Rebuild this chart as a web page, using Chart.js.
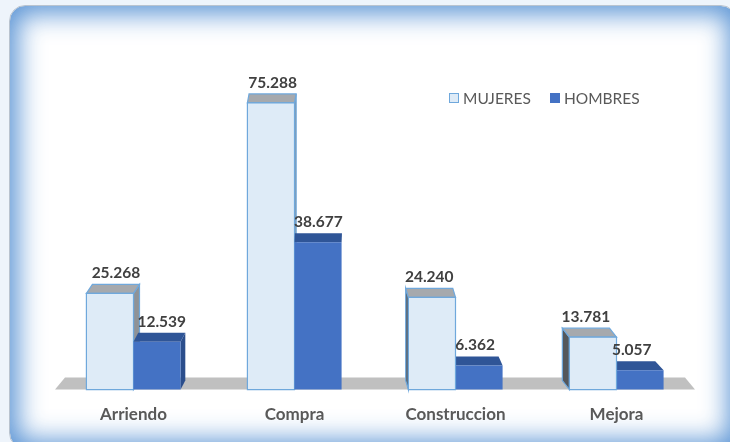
<!DOCTYPE html>
<html>
<head>
<meta charset="utf-8">
<script src="https://cdn.jsdelivr.net/npm/chart.js@4.4.1/dist/chart.umd.min.js"></script>
<style>
  html, body { margin: 0; padding: 0; background: #eef4fb; overflow: hidden; }
  #wrap { position: relative; width: 730px; height: 442px; overflow: hidden; }
  #frame {
    position: absolute; left: 9px; top: 5px; width: 726px; height: 442px;
    background: #fff; border-radius: 16px;
    border: 1px solid #b9c3cf;
    box-shadow: inset 0 0 26px 8px rgba(74, 138, 208, 0.9);
  }
  #chart { position: absolute; left: 0; top: 0; }
  #legend {
    position: absolute; left: 449px; top: 89px;
    font-family: Lato, "Open Sans", sans-serif; font-size: 15.5px; color: #595959;
    display: flex; align-items: center; white-space: nowrap;
  }
  .sw { display: inline-block; width: 10px; height: 10px; margin-right: 4px; box-sizing: border-box; }
  .item { display: flex; align-items: center; margin-right: 19px; }
</style>
</head>
<body>
<div id="wrap">
  <div id="frame"></div>
  <canvas id="chart" width="730" height="442"></canvas>
  <div id="legend"></div>
</div>
<script>
// --- data ---
const categories = ['Arriendo', 'Compra', 'Construccion', 'Mejora'];
const seriesNames = ['MUJERES', 'HOMBRES'];
const mujeres = [25268, 75288, 24240, 13781];
const hombres = [12539, 38677, 6362, 5057];

// colores: frente, borde, tapa, lado derecho, lado izquierdo
const palette = [
  { front: '#deebf7', border: '#6fa8dc', top: '#a6a9ad', sideR: '#8f9296', sideL: '#54575b' },
  { front: '#4472c4', border: '#4472c4', top: '#2f5597', sideR: '#2b4e8c', sideL: '#23427a' }
];

const DEPTH = 9;      // profundidad vertical de la tapa
const PERSP = 0.027;  // factor de perspectiva horizontal

function fmt(v) {
  return String(v).replace(/\B(?=(\d{3})+(?!\d))/g, '.');
}

// leyenda HTML
const legendEl = document.getElementById('legend');
seriesNames.forEach((name, i) => {
  const item = document.createElement('span');
  item.className = 'item';
  const sw = document.createElement('span');
  sw.className = 'sw';
  sw.style.background = palette[i].front;
  sw.style.border = i === 0 ? '1.5px solid ' + palette[0].border : 'none';
  item.appendChild(sw);
  item.appendChild(document.createTextNode(name));
  legendEl.appendChild(item);
});

function poly(ctx, pts, fill, stroke) {
  ctx.beginPath();
  ctx.moveTo(pts[0][0], pts[0][1]);
  for (let i = 1; i < pts.length; i++) ctx.lineTo(pts[i][0], pts[i][1]);
  ctx.closePath();
  ctx.fillStyle = fill;
  ctx.fill();
  if (stroke) {
    ctx.strokeStyle = stroke;
    ctx.lineWidth = 1.2;
    ctx.stroke();
  }
}

function vanishX(area) {
  return area.left + 0.433 * (area.right - area.left);
}

// dibuja las barras en 3D a partir de los elementos del chart
const bars3d = {
  id: 'bars3d',
  beforeDatasetsDraw(chart) {
    const ctx = chart.ctx;
    const area = chart.chartArea;
    const vx = vanishX(area);
    ctx.save();

    // piso
    poly(ctx, [
      [area.left + 2, area.bottom],
      [area.right - 2, area.bottom],
      [area.right - 12, area.bottom - 12],
      [area.left + 12, area.bottom - 12]
    ], '#c0c0c0');

    const metas = [chart.getDatasetMeta(0), chart.getDatasetMeta(1)];
    categories.forEach((c, i) => {
      const catX = (metas[0].data[i].x + metas[1].data[i].x) / 2;
      const order = (vx - catX) >= 0 ? [0, 1] : [1, 0];
      order.forEach(d => {
        const el = metas[d].data[i];
        const p = palette[d];
        const w = el.width;
        const x0 = el.x - w / 2, x1 = el.x + w / 2;
        const top = el.y, bot = el.base;
        const dx = PERSP * (vx - el.x);
        const dy = -DEPTH;
        const stroke = d === 0 ? p.border : null;
        // lado
        if (dx > 0.5) {
          poly(ctx, [[x1, top], [x1 + dx, top + dy], [x1 + dx, bot + dy], [x1, bot]], p.sideR, stroke);
        } else if (dx < -0.5) {
          poly(ctx, [[x0, top], [x0 + dx, top + dy], [x0 + dx, bot + dy], [x0, bot]], p.sideL, stroke);
        }
        // tapa
        poly(ctx, [[x0, top], [x1, top], [x1 + dx, top + dy], [x0 + dx, top + dy]], p.top, stroke);
        // frente
        poly(ctx, [[x0, top], [x1, top], [x1, bot], [x0, bot]], p.front, stroke);
      });
    });
    ctx.restore();
    return false;
  },
  afterDraw(chart) {
    const ctx = chart.ctx;
    const area = chart.chartArea;
    const vx = vanishX(area);
    ctx.save();
    ctx.font = 'bold 15.5px Lato, "Open Sans", sans-serif';
    ctx.fillStyle = '#404040';
    ctx.textAlign = 'center';
    ctx.textBaseline = 'alphabetic';
    [0, 1].forEach(d => {
      const meta = chart.getDatasetMeta(d);
      const data = chart.data.datasets[d].data;
      meta.data.forEach((el, i) => {
        const dx = PERSP * (vx - el.x);
        ctx.fillText(fmt(data[i]), el.x + dx, el.y - DEPTH - 6);
      });
    });
    ctx.restore();
  }
};

new Chart(document.getElementById('chart'), {
  type: 'bar',
  data: {
    labels: categories,
    datasets: [
      { label: seriesNames[0], data: mujeres, backgroundColor: palette[0].front, borderColor: palette[0].border },
      { label: seriesNames[1], data: hombres, backgroundColor: palette[1].front, borderColor: palette[1].border }
    ]
  },
  options: {
    responsive: false,
    devicePixelRatio: 1,
    animation: false,
    layout: { padding: { left: 53, right: 33, top: 85, bottom: 2 } },
    datasets: { bar: { categoryPercentage: 0.585, barPercentage: 1.0 } },
    scales: {
      x: {
        grid: { display: false, drawTicks: false },
        border: { display: false },
        ticks: {
          padding: 15,
          color: '#595959',
          font: { family: 'Lato, "Open Sans", sans-serif', size: 17, weight: 'bold' }
        }
      },
      y: { display: false, min: 0, max: 80000 }
    },
    plugins: {
      legend: { display: false },
      tooltip: { enabled: false }
    }
  },
  plugins: [bars3d]
});
</script>
</body>
</html>
